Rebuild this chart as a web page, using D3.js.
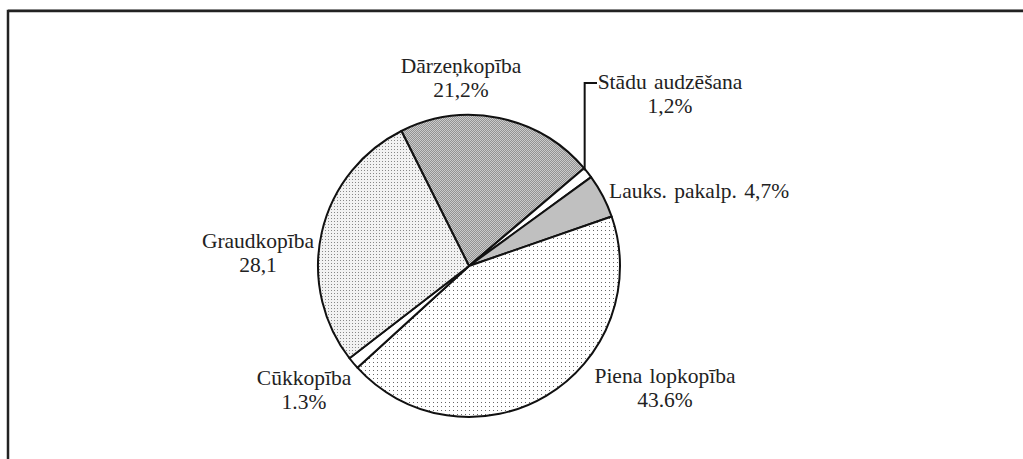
<!DOCTYPE html>
<html>
  <head>
    <meta charset="utf-8" />
    <script src="https://cdn.jsdelivr.net/npm/d3@7/dist/d3.min.js"></script>
    <style>
      * {
        margin: 0;
        padding: 0;
      }
      body {
        background-color: white;
        width: 1023px;
        height: 459px;
        overflow: hidden;
      }
      .slice {
        stroke: #111;
        stroke-width: 2px;
      }
    </style>
  </head>
  <body>
    <div id="chart"></div>
    <script>
      // sectors, clockwise from the top-left boundary
      const sectors = [
        "Dārzeņkopība",
        "Stādu audzēšana",
        "Lauks. pakalp.",
        "Piena lopkopība",
        "Cūkkopība",
        "Graudkopība",
      ];
      const shares = [21.2, 1.2, 4.7, 43.6, 1.3, 28.1];
      const labelLines = [
        ["Dārzeņkopība", "21,2%"],
        ["Stādu audzēšana", "1,2%"],
        ["Lauks. pakalp. 4,7%"],
        ["Piena lopkopība", "43.6%"],
        ["Cūkkopība", "1.3%"],
        ["Graudkopība", "28,1"],
      ];

      const w = 1023;
      const h = 459;
      const cx = 469;
      const cy = 266;
      const radius = 151;

      const svg = d3
        .select("#chart")
        .append("svg")
        .attr("width", w)
        .attr("height", h);

      const defs = svg.append("defs");

      // checker grey for Dārzeņkopība
      const pCheck = defs
        .append("pattern")
        .attr("id", "checker")
        .attr("width", 2)
        .attr("height", 2)
        .attr("patternUnits", "userSpaceOnUse");
      pCheck.append("rect").attr("width", 2).attr("height", 2).attr("fill", "#cbcbcb");
      pCheck.append("rect").attr("width", 1).attr("height", 1).attr("fill", "#939393");
      pCheck.append("rect").attr("x", 1).attr("y", 1).attr("width", 1).attr("height", 1).attr("fill", "#939393");

      // dense dots for Graudkopība
      const pDense = defs
        .append("pattern")
        .attr("id", "denseDots")
        .attr("width", 3)
        .attr("height", 3)
        .attr("patternUnits", "userSpaceOnUse");
      pDense.append("rect").attr("width", 3).attr("height", 3).attr("fill", "#f2f2f2");
      pDense.append("rect").attr("width", 1).attr("height", 1).attr("fill", "#888");

      // sparse dots for Piena lopkopība
      const pSparse = defs
        .append("pattern")
        .attr("id", "sparseDots")
        .attr("width", 4)
        .attr("height", 4)
        .attr("patternUnits", "userSpaceOnUse");
      pSparse.append("rect").attr("width", 4).attr("height", 4).attr("fill", "white");
      pSparse.append("rect").attr("width", 1).attr("height", 1).attr("fill", "#666");

      const fills = [
        "url(#checker)",
        "white",
        "#c0c0c0",
        "url(#sparseDots)",
        "white",
        "url(#denseDots)",
      ];

      // frame (only top and left edges visible)
      svg
        .append("line")
        .attr("x1", 8)
        .attr("x2", w)
        .attr("y1", 9.5)
        .attr("y2", 9.5)
        .attr("stroke", "#aaa")
        .attr("stroke-width", 1);
      svg
        .append("path")
        .attr("d", d3.line()([[8, h], [8, 11], [w, 11]]))
        .attr("fill", "none")
        .attr("stroke", "#222")
        .attr("stroke-width", 2.5);

      const start = (-26.6 * Math.PI) / 180;
      const pie = d3
        .pie()
        .sort(null)
        .value((d) => d)
        .startAngle(start)
        .endAngle(start + 2 * Math.PI);

      const arc = d3.arc().innerRadius(0).outerRadius(radius);
      const arcs = pie(shares);

      const g = svg.append("g").attr("transform", `translate(${cx},${cy})`);

      g.selectAll("path.slice")
        .data(arcs)
        .enter()
        .append("path")
        .attr("class", "slice")
        .attr("d", arc)
        .attr("fill", (d, i) => fills[i])
        .attr("stroke-linejoin", "round");

      // label anchors: [x, first baseline, anchor]
      const labelPos = [
        [461, 73, "middle"],
        [670, 89, "middle"],
        [609, 198, "start"],
        [665, 383, "middle"],
        [304, 385, "middle"],
        [258, 248, "middle"],
      ];

      labelLines.forEach((lines, i) => {
        const [x, y, anchor] = labelPos[i];
        const t = svg
          .append("text")
          .attr("x", x)
          .attr("y", y)
          .attr("text-anchor", anchor)
          .style("font-family", "Times New Roman, serif")
          .style("word-spacing", "2px")
          .attr("font-size", 21.5)
          .attr("fill", "#222");
        lines.forEach((line, j) => {
          t.append("tspan")
            .attr("x", x)
            .attr("dy", j === 0 ? 0 : 24)
            .text(line);
        });
      });

      // leader line for the small Stādu audzēšana slice
      const stadu = arcs[1];
      const mid = (stadu.startAngle + stadu.endAngle) / 2;
      const edgeX = cx + Math.sin(mid) * radius;
      const edgeY = cy - Math.cos(mid) * radius;
      svg
        .append("path")
        .attr("d", d3.line()([[597, 83], [edgeX - 3, 83], [edgeX - 3, edgeY - 2]]))
        .attr("fill", "none")
        .attr("stroke", "#111")
        .attr("stroke-width", 2);
    </script>
  </body>
</html>
